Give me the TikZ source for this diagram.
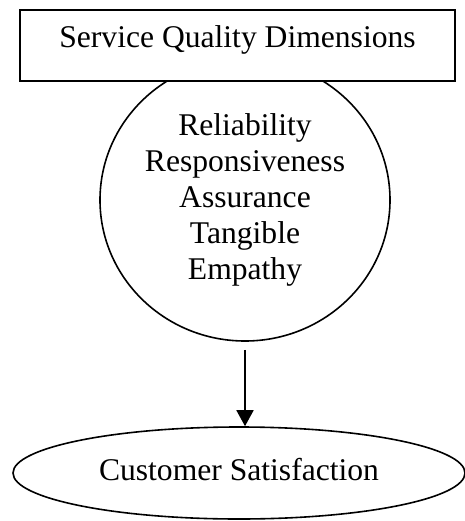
\documentclass[tikz,border=0pt]{standalone}
\usepackage{fontspec}
\setmainfont{Liberation Serif}
\usetikzlibrary{shapes.geometric, arrows.meta, positioning}

\begin{document}
\begin{tikzpicture}[x=1pt, y=-1pt,
    txt/.style={font=\fontsize{31.6}{36}\selectfont, align=center, inner sep=0pt},
    oval/.style={ellipse, draw, line width=1.6pt, txt},
    titlebox/.style={rectangle, draw, line width=2.2pt, fill=white, txt}]
    \useasboundingbox (0,0) rectangle (464,521);
    % Ellipse met de vijf dimensies
    \node[oval, minimum width=290pt, minimum height=282pt] (dims) at (245,200)
      {Reliability\\Responsiveness\\Assurance\\Tangible\\Empathy};
    % Titelkader ligt over de bovenkant van de ellips
    \node[titlebox, minimum width=435pt, minimum height=71pt,
          text height=21pt, text depth=16pt] (title) at (237.5,45.5)
      {Service Quality Dimensions};
    % Uitkomst
    \node[oval, minimum width=452pt, minimum height=92pt,
          text height=21pt, text depth=6pt] (sat) at (239,473)
      {Customer Satisfaction};
    % Pijl
    \draw[line width=1.8pt, -{Triangle[length=16pt, width=17pt]}]
      ([yshift=-8pt]dims.south) -- (dims.south |- sat.north);
\end{tikzpicture}
\end{document}
